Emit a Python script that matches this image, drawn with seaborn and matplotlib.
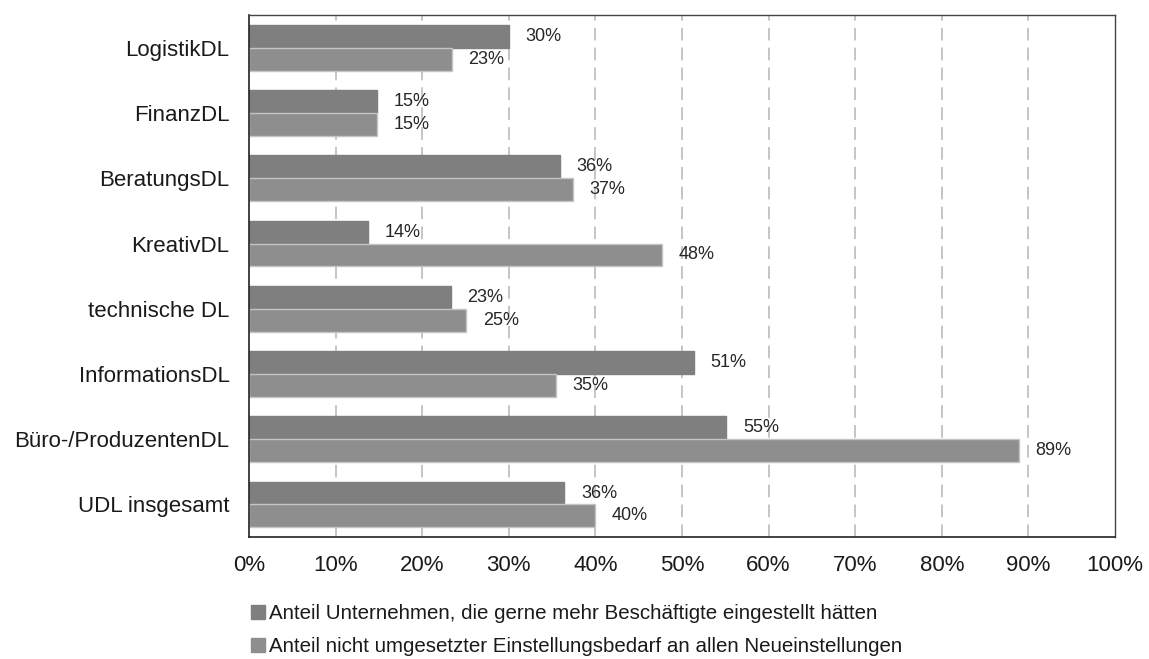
import numpy as np
import pandas as pd
import matplotlib
matplotlib.use("Agg")
import matplotlib.pyplot as plt
from matplotlib.lines import Line2D
from matplotlib.ticker import FixedLocator, PercentFormatter
import seaborn as sns

categories = ["LogistikDL", "FinanzDL", "BeratungsDL", "KreativDL",
              "technische DL", "InformationsDL", "Büro-/ProduzentenDL",
              "UDL insgesamt"]
series_names = [
    "Anteil Unternehmen, die gerne mehr Beschäftigte eingestellt hätten",
    "Anteil nicht umgesetzter Einstellungsbedarf an allen Neueinstellungen",
]
share_firms = [30.0, 14.8, 35.9, 13.7, 23.3, 51.4, 55.1, 36.4]
share_unfilled = [23.4, 14.8, 37.4, 47.7, 25.1, 35.4, 88.9, 40.0]
x_ticks = list(range(0, 101, 10))

df = pd.DataFrame({
    "Bereich": categories * 2,
    "Wert": share_firms + share_unfilled,
    "Reihe": [series_names[0]] * len(categories) + [series_names[1]] * len(categories),
})

sns.set_style("white")
plt.rcParams["font.family"] = ["Liberation Sans", "DejaVu Sans"]

colors = ["#7f7f7f", "#8e8e8e"]
edge_colors = ["#7f7f7f", "#c4c4c4"]

fig = plt.figure(figsize=(11.49, 6.59), dpi=100)
ax = fig.add_axes([0.2167, 0.185, 0.9704 - 0.2167, 0.977 - 0.185])

sns.barplot(data=df, x="Wert", y="Bereich", hue="Reihe", order=categories,
            hue_order=series_names, palette=colors, orient="h",
            width=0.70, ax=ax, legend=False, saturation=1)

for cont, ec in zip(ax.containers, edge_colors):
    for p in cont.patches:
        p.set_edgecolor(ec)
        p.set_linewidth(1.0)
    ax.bar_label(cont, labels=[f"{v:.0f}%" for v in cont.datavalues],
                 padding=12, fontsize=13, color="#262626")

ax.set_xlim(0, 100)
ax.set_ylim(len(categories) - 0.5, -0.5)
ax.xaxis.set_major_locator(FixedLocator(x_ticks))
ax.xaxis.set_major_formatter(PercentFormatter(decimals=0))
ax.set_xlabel("")
ax.set_ylabel("")

# dashed vertical gridlines inside the plot area
for t in x_ticks[1:-1]:
    ax.axvline(t, color="#c0c0c0", lw=1.3, ls=(0, (7, 4)), zorder=0)
ax.set_axisbelow(True)

ax.tick_params(axis="x", which="major", direction="out", length=6, width=1,
               color="#333333", labelsize=16, labelcolor="#1a1a1a", pad=7)
ax.tick_params(axis="y", which="major", length=0, labelsize=16,
               labelcolor="#1a1a1a", pad=14)
ax.yaxis.set_minor_locator(FixedLocator(np.arange(-0.5, len(categories) + 0.5, 1)))
ax.tick_params(axis="y", which="minor", direction="out", length=6, width=1,
               color="#333333")

for side in ["left", "bottom"]:
    ax.spines[side].set_color("#222222")
    ax.spines[side].set_linewidth(1.2)
for side in ["top", "right"]:
    ax.spines[side].set_color("#444444")
    ax.spines[side].set_linewidth(1.0)

handles = [Line2D([0], [0], marker="s", color="none", markerfacecolor=c,
                  markeredgecolor=c, markersize=10) for c in colors]
fig.legend(handles, series_names, loc="upper left",
           bbox_to_anchor=(0.2095, 0.099), frameon=False,
           fontsize=14.8, handlelength=0.7, handletextpad=0.2,
           labelspacing=0.68, borderpad=0, labelcolor="#1a1a1a")

fig.savefig("out.png", dpi=100)
